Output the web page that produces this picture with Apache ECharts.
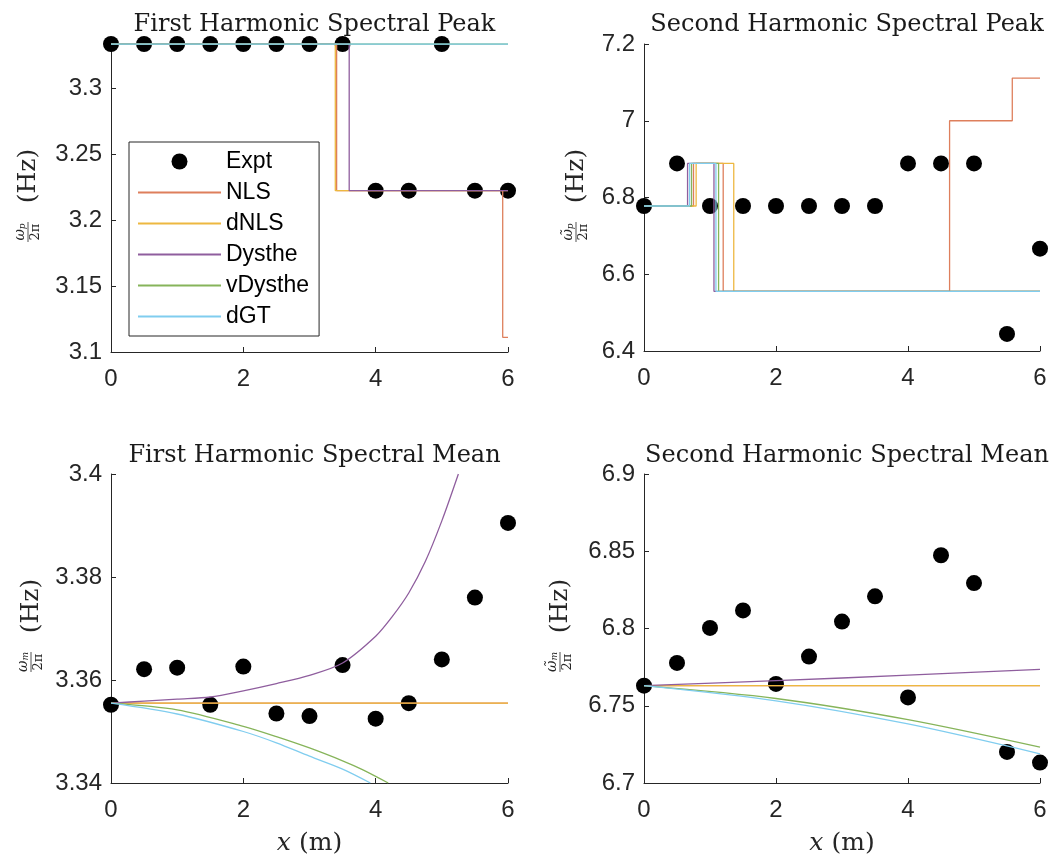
<!DOCTYPE html>
<html>
<head>
<meta charset="utf-8">
<title>Harmonic spectral peak and mean</title>
<script src="https://cdn.jsdelivr.net/npm/echarts@6/dist/echarts.min.js"></script>
<style>
  html, body { margin: 0; padding: 0; background: #fff; }
  #chart { width: 1062px; height: 863px; }
</style>
</head>
<body>
<div id="chart"></div>
<script>
  // measurement positions (m)
  var xs = [0, 0.5, 1, 1.5, 2, 2.5, 3, 3.5, 4, 4.5, 5, 5.5, 6];

  // experiment
  var exptPeak1 = [3.3333, 3.3333, 3.3333, 3.3333, 3.3333, 3.3333, 3.3333, 3.3333, 3.2222, 3.2222, 3.3333, 3.2222, 3.2222];
  var exptPeak2 = [6.7778, 6.8889, 6.7778, 6.7778, 6.7778, 6.7778, 6.7778, 6.7778, 6.8889, 6.8889, 6.8889, 6.4444, 6.6667];
  var exptMean1 = [3.3552, 3.3621, 3.3624, 3.3552, 3.3626, 3.3535, 3.3530, 3.3629, 3.3525, 3.3555, 3.3640, 3.3760, 3.3905];
  var exptMean2 = [6.7630, 6.7777, 6.8004, 6.8117, 6.7641, 6.7818, 6.8045, 6.8208, 6.7554, 6.8474, 6.8294, 6.7201, 6.7132];

  // first harmonic peak, change points of the step curves
  var nlsPeak1X = [0, 3.41, 5.92, 6];
  var nlsPeak1Y = [3.3333, 3.2222, 3.1111, 3.1111];
  var dnlsPeak1X = [0, 3.39, 6];
  var dnlsPeak1Y = [3.3333, 3.2222, 3.2222];
  var dysPeak1X = [0, 3.6, 6];
  var dysPeak1Y = [3.3333, 3.2222, 3.2222];
  var vdysPeak1X = [0, 6];
  var vdysPeak1Y = [3.3333, 3.3333];
  var dgtPeak1X = [0, 6];
  var dgtPeak1Y = [3.3333, 3.3333];

  // second harmonic peak
  var nlsPeak2X = [0, 0.75, 1.2, 4.63, 5.58, 6];
  var nlsPeak2Y = [6.7778, 6.8889, 6.5556, 7.0, 7.1111, 7.1111];
  var dnlsPeak2X = [0, 0.79, 1.36, 6];
  var dnlsPeak2Y = [6.7778, 6.8889, 6.5556, 6.5556];
  var dysPeak2X = [0, 0.66, 1.06, 6];
  var dysPeak2Y = [6.7778, 6.8889, 6.5556, 6.5556];
  var vdysPeak2X = [0, 0.72, 1.13, 6];
  var vdysPeak2Y = [6.7778, 6.8889, 6.5556, 6.5556];
  var dgtPeak2X = [0, 0.69, 1.09, 6];
  var dgtPeak2Y = [6.7778, 6.8889, 6.5556, 6.5556];

  // first harmonic mean
  var nlsMean1X = [0, 6];
  var nlsMean1Y = [3.3555, 3.3555];
  var dnlsMean1X = [0, 6];
  var dnlsMean1Y = [3.3555, 3.3555];
  var dysMean1X = [0, 0.5, 1, 1.5, 2, 2.5, 3, 3.5, 4, 4.25, 4.5, 4.75, 5, 5.25];
  var dysMean1Y = [3.3555, 3.3559, 3.3563, 3.3567, 3.3579, 3.3593, 3.3609, 3.3633, 3.3685, 3.3723, 3.3769, 3.3830, 3.3909, 3.4000];
  var vdysMean1X = [0, 1, 2, 2.5, 3, 3.5, 3.8, 4.19];
  var vdysMean1Y = [3.3555, 3.3542, 3.3510, 3.3490, 3.3468, 3.3443, 3.3426, 3.3400];
  var dgtMean1X = [0, 1, 2, 2.5, 3, 3.5, 3.92];
  var dgtMean1Y = [3.3555, 3.3534, 3.3500, 3.3478, 3.3452, 3.3427, 3.3400];

  // second harmonic mean
  var nlsMean2X = [0, 6];
  var nlsMean2Y = [6.763, 6.763];
  var dnlsMean2X = [0, 6];
  var dnlsMean2Y = [6.763, 6.763];
  var dysMean2X = [0, 2, 4, 6];
  var dysMean2Y = [6.763, 6.7662, 6.7698, 6.7736];
  var vdysMean2X = [0, 2, 4, 6];
  var vdysMean2Y = [6.763, 6.7547, 6.7410, 6.7232];
  var dgtMean2X = [0, 2, 4, 6];
  var dgtMean2Y = [6.763, 6.7532, 6.7382, 6.7189];

  var yTicks1 = [3.1, 3.15, 3.2, 3.25, 3.3];
  var titles = ['First Harmonic Spectral Peak', 'Second Harmonic Spectral Peak',
                'First Harmonic Spectral Mean', 'Second Harmonic Spectral Mean'];
  var modelNames = ['NLS', 'dNLS', 'Dysthe', 'vDysthe', 'dGT'];
  var modelColors = ['#DE7F5C', '#EDB840', '#8F5E9E', '#86B45A', '#80CDEF'];

  var axisColor = '#262626';
  var serif = 'DejaVu Serif';
  var grids = [
    {left: 111, top: 44, width: 397, height: 308},
    {left: 644, top: 44, width: 396, height: 307},
    {left: 111, top: 474, width: 397, height: 309},
    {left: 644, top: 474, width: 396, height: 309}
  ];

  function pairs(xa, ya) {
    return xa.map(function (x, i) { return [x, ya[i]]; });
  }

  var chart = echarts.init(document.getElementById('chart'));

  var xAxes = grids.map(function (g, i) {
    var ax = {
      type: 'value', gridIndex: i, min: 0, max: 6, interval: 2,
      axisLine: {lineStyle: {color: axisColor}},
      axisTick: {inside: true, length: 5, lineStyle: {color: axisColor}},
      axisLabel: {color: axisColor, fontFamily: 'Liberation Sans', fontSize: 24, margin: 15},
      splitLine: {show: false}
    };
    if (i >= 2) {
      ax.name = '{i|x}{r| (m)}';
      ax.nameLocation = 'middle';
      ax.nameGap = 48;
      ax.nameTextStyle = {
        rich: {
          i: {fontFamily: serif, fontStyle: 'italic', fontSize: 25, color: axisColor},
          r: {fontFamily: serif, fontSize: 25, color: axisColor}
        }
      };
    }
    return ax;
  });

  var yRanges = [[3.1, 3.3333, 0.05], [6.4, 7.2, 0.2], [3.34, 3.4, 0.02], [6.7, 6.9, 0.05]];
  var yAxes = yRanges.map(function (r, i) {
    var ax = {
      type: 'value', gridIndex: i, min: r[0], max: r[1], interval: r[2],
      axisLine: {show: true, lineStyle: {color: axisColor}},
      axisTick: {show: true, inside: true, length: 5, lineStyle: {color: axisColor}},
      axisLabel: {color: axisColor, fontFamily: 'Liberation Sans', fontSize: 24, margin: 9},
      splitLine: {show: false}
    };
    if (i === 0) {
      ax.axisTick.customValues = yTicks1;
      ax.axisLabel.customValues = yTicks1;
    }
    return ax;
  });

  var modelData = [
    [[nlsPeak1X, nlsPeak1Y], [dnlsPeak1X, dnlsPeak1Y], [dysPeak1X, dysPeak1Y], [vdysPeak1X, vdysPeak1Y], [dgtPeak1X, dgtPeak1Y]],
    [[nlsPeak2X, nlsPeak2Y], [dnlsPeak2X, dnlsPeak2Y], [dysPeak2X, dysPeak2Y], [vdysPeak2X, vdysPeak2Y], [dgtPeak2X, dgtPeak2Y]],
    [[nlsMean1X, nlsMean1Y], [dnlsMean1X, dnlsMean1Y], [dysMean1X, dysMean1Y], [vdysMean1X, vdysMean1Y], [dgtMean1X, dgtMean1Y]],
    [[nlsMean2X, nlsMean2Y], [dnlsMean2X, dnlsMean2Y], [dysMean2X, dysMean2Y], [vdysMean2X, vdysMean2Y], [dgtMean2X, dgtMean2Y]]
  ];
  var exptData = [exptPeak1, exptPeak2, exptMean1, exptMean2];

  var series = [];
  for (var p = 0; p < 4; p++) {
    series.push({
      name: 'Expt', type: 'scatter', xAxisIndex: p, yAxisIndex: p,
      symbol: 'circle', symbolSize: 16, clip: false,
      itemStyle: {color: '#000', opacity: 1},
      data: pairs(xs, exptData[p])
    });
    for (var m = 0; m < 5; m++) {
      var s = {
        name: modelNames[m], type: 'line', xAxisIndex: p, yAxisIndex: p,
        symbol: 'none',
        itemStyle: {color: modelColors[m]},
        lineStyle: {color: modelColors[m], width: 1.3},
        data: pairs(modelData[p][m][0], modelData[p][m][1])
      };
      if (p < 2) s.step = 'end';
      else s.smooth = 0.3;
      series.push(s);
    }
  }

  var titleTops = [8, 8, 439, 439];
  var title = titles.map(function (t, i) {
    return {
      text: t,
      left: grids[i].left + grids[i].width / 2,
      top: titleTops[i],
      textAlign: 'center',
      textStyle: {fontFamily: serif, fontWeight: 'normal', fontSize: 24, color: '#1a1a1a'}
    };
  });

  // rotated y labels: fraction + (Hz)
  var yLabelPos = [[28, 198], [576, 198], [31, 628], [560, 628]];
  var numerators = ['ω', 'ω̃', 'ω', 'ω̃'];
  var subs = ['p', 'p', 'm', 'm'];
  var graphic = yLabelPos.map(function (pos, i) {
    return {
      type: 'group', x: pos[0], y: pos[1], rotation: Math.PI / 2,
      children: [
        {type: 'text', x: 22, y: 0, style: {text: '(Hz)', font: '25px "DejaVu Serif"', fill: axisColor, textAlign: 'center', textVerticalAlign: 'middle'}},
        {type: 'text', x: -34, y: -8, style: {
          text: '{w|' + numerators[i] + '}{s|' + subs[i] + '}',
          textAlign: 'center', textVerticalAlign: 'middle',
          rich: {
            w: {font: 'italic 14px "DejaVu Serif"', fill: axisColor, verticalAlign: 'bottom'},
            s: {font: 'italic 9px "DejaVu Serif"', fill: axisColor, verticalAlign: 'bottom'}
          }
        }},
        {type: 'line', shape: {x1: -44, y1: 0, x2: -24, y2: 0}, style: {stroke: axisColor, lineWidth: 0.8}},
        {type: 'text', x: -34, y: 8, style: {text: '2π', font: '13px "DejaVu Serif"', fill: axisColor, textAlign: 'center', textVerticalAlign: 'middle'}}
      ]
    };
  });

  // legend entries; line entries hide the default marker
  var legendData = [{name: 'Expt'}].concat(modelNames.map(function (n) {
    return {name: n, itemStyle: {color: 'rgba(0,0,0,0)', opacity: 0, borderWidth: 0}};
  }));

  chart.setOption({
    animation: false,
    backgroundColor: '#fff',
    title: title,
    grid: grids,
    xAxis: xAxes,
    yAxis: yAxes,
    legend: {
      data: legendData,
      orient: 'vertical',
      left: 129, top: 142,
      padding: [8, 10, 8, 8],
      itemWidth: 83, itemHeight: 16, itemGap: 8,
      backgroundColor: '#fff',
      borderColor: axisColor, borderWidth: 1,
      selectedMode: false,
      textStyle: {fontFamily: 'Liberation Sans', fontSize: 23, color: '#000'}
    },
    graphic: graphic,
    series: series
  });
</script>
</body>
</html>
